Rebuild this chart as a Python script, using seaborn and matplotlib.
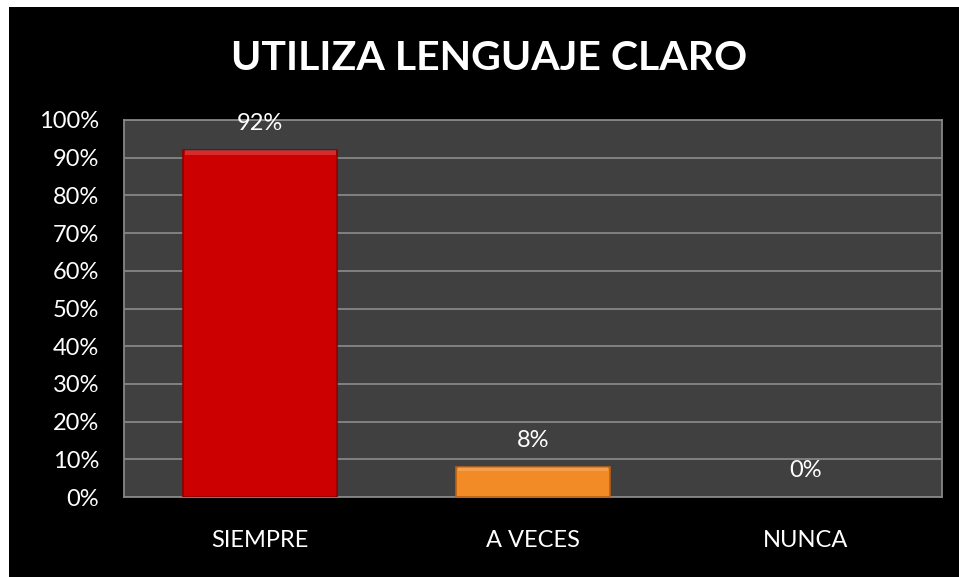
import matplotlib
matplotlib.use("Agg")
import matplotlib.pyplot as plt
import seaborn as sns
import pandas as pd
from matplotlib.patches import Rectangle
from matplotlib.ticker import FuncFormatter, MultipleLocator

categories = ["SIEMPRE", "A VECES", "NUNCA"]
values = [92, 8, 0]
labels = ["92%", "8%", "0%"]
colors = ["#CC0000", "#F28A26", "#888888"]
edge_colors = ["#8E0000", "#B8601A", "#888888"]
title = "UTILIZA LENGUAJE CLARO"

sns.set_theme(style="dark")
plt.rcParams['font.family'] = ['Lato', 'DejaVu Sans']

df = pd.DataFrame({"cat": categories, "val": values})

fig = plt.figure(figsize=(9.59, 5.77), dpi=100, facecolor="black")
fig.patches.append(Rectangle((0, 0), 9/959, 1, transform=fig.transFigure,
                             facecolor="white", edgecolor="none"))
fig.patches.append(Rectangle((0, 1 - 7/577), 1, 7/577, transform=fig.transFigure,
                             facecolor="white", edgecolor="none"))
ax = fig.add_axes([124/959, 80/577, (942-124)/959, (497-120)/577])
ax.set_zorder(2)
ax.set_facecolor("#404040")

sns.barplot(data=df, x="cat", y="val", hue="cat", palette=colors, legend=False,
            width=0.565, ax=ax, zorder=3, saturation=1)
for i, p in enumerate(list(ax.patches)):
    p.set_edgecolor(edge_colors[i])
    p.set_linewidth(1.2)
    if p.get_height() > 0:
        x0, w, h = p.get_x(), p.get_width(), p.get_height()
        hl = min(1.2, h * 0.25)
        ax.add_patch(Rectangle((x0 + w * 0.01, h - hl), w * 0.98, hl,
                               facecolor="white", alpha=0.18, edgecolor="none", zorder=4))

for i, (v, lab) in enumerate(zip(values, labels)):
    ax.annotate(lab, (i, v), xytext=(0, 19), textcoords="offset points",
                ha="center", va="center", color="white", fontsize=17)

ax.set_ylim(0, 100)
ax.set_xlim(-0.5, 2.5)
ax.yaxis.set_major_locator(MultipleLocator(10))
ax.yaxis.set_major_formatter(FuncFormatter(lambda v, p: f"{int(v)}%"))
ax.grid(axis="y", color="#868686", linewidth=1.3, zorder=1)
ax.grid(axis="x", visible=False)
ax.set_axisbelow(True)
for s in ax.spines.values():
    s.set_visible(True)
    s.set_color("#868686")
    s.set_linewidth(1.3)
ax.tick_params(axis="y", colors="white", labelsize=17, pad=18, length=0)
ax.tick_params(axis="x", colors="white", labelsize=17, pad=24, length=0)
ax.set_xlabel("")
ax.set_ylabel("")

fig.text(489/959, 1 - 59/577, title, ha="center", va="center", color="white",
         fontsize=29.5, fontweight="bold")

fig.savefig("out.png", dpi=100, facecolor=fig.get_facecolor())
